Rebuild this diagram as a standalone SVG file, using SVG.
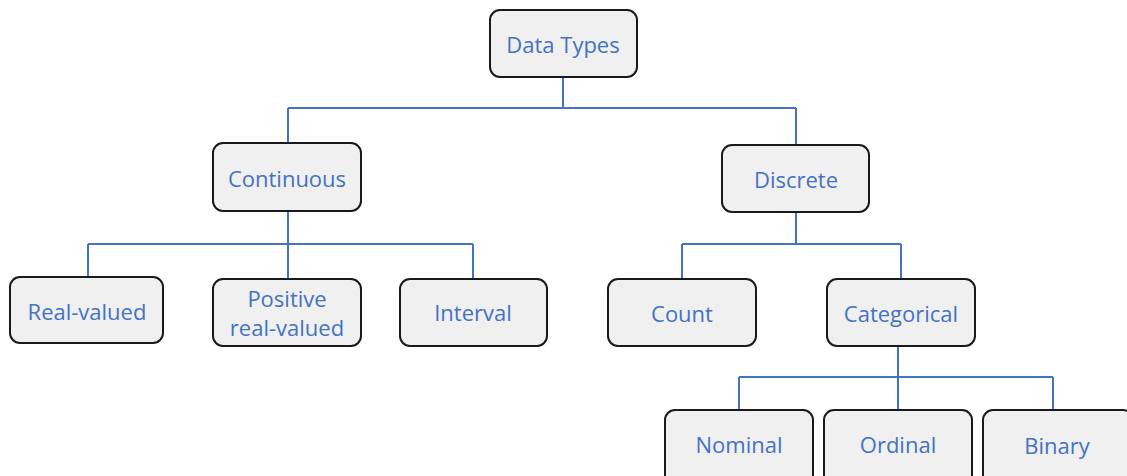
<svg xmlns="http://www.w3.org/2000/svg" width="1127" height="476" viewBox="0 0 1127 476">
  <style>
    .box { fill: #f0f0f0; stroke: #1a1a1a; stroke-width: 2; }
    .lbl { fill: #4472c4; font-family: "Open Sans", "Noto Sans", sans-serif; font-size: 22px; text-anchor: middle; dominant-baseline: central; }
    .wire { fill: none; stroke: #4472c4; stroke-width: 2; }
  </style>
  <rect width="1127" height="476" fill="#ffffff"/>

  <!-- tree connectors -->
  <g id="connectors">
    <path class="wire" d="M563 77 V108 M288 108 H796 M288 108 V143 M796 108 V145"/>
    <path class="wire" d="M288 211 V279 M88 244 H473 M88 244 V277 M473 244 V279"/>
    <path class="wire" d="M796 212 V244 M682 244 H901 M682 244 V279 M901 244 V279"/>
    <path class="wire" d="M898 346 V410 M739 377 H1053 M739 377 V410 M1053 377 V410"/>
  </g>

  <g id="data-types">
    <rect class="box" x="490" y="10" width="147" height="67" rx="10"/>
    <text class="lbl" x="563" y="44">Data Types</text>
  </g>
  <g id="continuous">
    <rect class="box" x="213" y="143" width="148" height="68" rx="10"/>
    <text class="lbl" x="287" y="178">Continuous</text>
  </g>
  <g id="discrete">
    <rect class="box" x="722" y="145" width="147" height="67" rx="10"/>
    <text class="lbl" x="796" y="179">Discrete</text>
  </g>
  <g id="real-valued">
    <rect class="box" x="10" y="277" width="153" height="66" rx="10"/>
    <text class="lbl" x="87" y="311">Real-valued</text>
  </g>
  <g id="positive-real-valued">
    <rect class="box" x="213" y="279" width="148" height="67" rx="10"/>
    <text class="lbl" x="287" y="298">Positive</text>
    <text class="lbl" x="287" y="327">real-valued</text>
  </g>
  <g id="interval">
    <rect class="box" x="400" y="279" width="147" height="67" rx="10"/>
    <text class="lbl" x="473" y="312">Interval</text>
  </g>
  <g id="count">
    <rect class="box" x="608" y="279" width="148" height="67" rx="10"/>
    <text class="lbl" x="682" y="313">Count</text>
  </g>
  <g id="categorical">
    <rect class="box" x="827" y="279" width="148" height="67" rx="10"/>
    <text class="lbl" x="901" y="313">Categorical</text>
  </g>
  <g id="nominal">
    <rect class="box" x="665" y="410" width="148" height="75" rx="10"/>
    <text class="lbl" x="739" y="444">Nominal</text>
  </g>
  <g id="ordinal">
    <rect class="box" x="824" y="410" width="148" height="75" rx="10"/>
    <text class="lbl" x="898" y="444">Ordinal</text>
  </g>
  <g id="binary">
    <rect class="box" x="983" y="410" width="150" height="75" rx="10"/>
    <text class="lbl" x="1057" y="445">Binary</text>
  </g>
</svg>
